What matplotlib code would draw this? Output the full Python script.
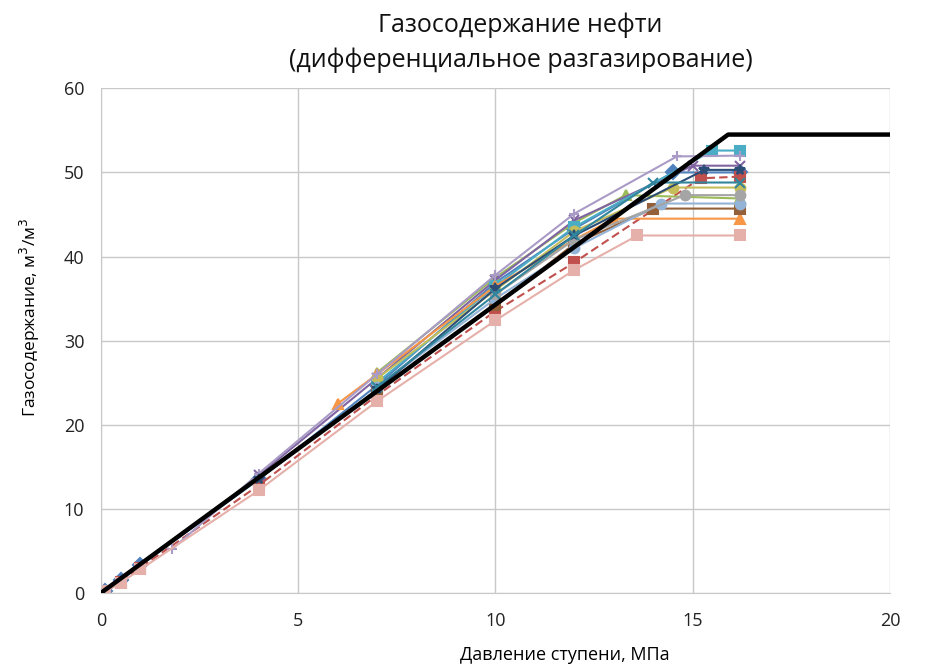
import matplotlib
matplotlib.use("Agg")
import matplotlib.pyplot as plt

plt.rcParams['font.family'] = ['Open Sans', 'DejaVu Sans']

title = "Газосодержание нефти\n(дифференциальное разгазирование)"
xlabel = "Давление ступени, МПа"
ylabel = "Газосодержание, м$^3$/м$^3$"

# black trend line
trend_x = [0, 15.9, 20]
trend_y = [0, 54.5, 54.5]

# sample series: (pressure, GOR)
s1_x = [16.2, 14.5, 12, 10, 7, 4, 1, 0.5, 0.1]
s1_y = [50.0, 50.0, 43.3, 36.9, 24.7, 13.5, 3.3, 1.5, 0.2]
s2_x = [16.2, 15.2, 12, 10, 7, 4, 1, 0.5, 0.1]
s2_y = [49.5, 49.3, 39.3, 33.5, 23.5, 12.8, 3.0, 1.3, 0.1]
s3_x = [16.2, 13.3, 12, 10, 7]
s3_y = [46.9, 47.3, 44.0, 37.5, 26.2]
s4_x = [16.2, 15.0, 12, 10, 7, 4]
s4_y = [50.8, 50.8, 44.3, 37.2, 25.5, 14.0]
s5_x = [16.2, 15.5, 12, 10, 7]
s5_y = [52.6, 52.6, 43.5, 36.5, 25.0]
s6_x = [16.2, 13.0, 12, 10, 7, 6]
s6_y = [44.5, 44.5, 42.0, 36.5, 26.0, 22.5]
s7_x = [16.2, 13.6, 12, 10, 7, 4, 1, 0.5, 0.1]
s7_y = [42.5, 42.5, 38.4, 32.4, 22.8, 12.2, 2.8, 1.2, 0.2]
s8_x = [16.2, 14.0, 12, 10, 7]
s8_y = [45.7, 45.7, 41.5, 34.2, 24.0]
s9_x = [16.2, 14.5, 12, 10, 7]
s9_y = [48.2, 48.2, 43.0, 36.0, 25.5]
s10_x = [16.2, 14.6, 12, 10, 7, 4, 1.8]
s10_y = [52.0, 51.9, 45.1, 37.8, 26.0, 14.2, 5.2]
s11_x = [16.2, 14.2, 12, 10, 7]
s11_y = [46.3, 46.3, 41.0, 35.0, 24.5]
s12_x = [16.2, 14.8, 12, 10]
s12_y = [47.3, 47.3, 42.0, 35.5]
s13_x = [16.2, 15.3, 12, 10, 7, 4]
s13_y = [50.3, 50.3, 42.5, 36.2, 24.2, 13.5]
s14_x = [16.2, 14.0, 12, 10, 7]
s14_y = [48.8, 48.8, 42.5, 35.5, 24.5]

series = [
    (s1_x, s1_y, '#4F81BD', 'D', '-'),
    (s2_x, s2_y, '#C0504D', 's', (0, (4, 2))),
    (s3_x, s3_y, '#9BBB59', '^', '-'),
    (s4_x, s4_y, '#8064A2', 'x', '-'),
    (s5_x, s5_y, '#4BACC6', 's', '-'),
    (s6_x, s6_y, '#F79646', '^', '-'),
    (s8_x, s8_y, '#94603A', 's', '-'),
    (s9_x, s9_y, '#C4BD5A', 'o', '-'),
    (s10_x, s10_y, '#A99BC6', '+', '-'),
    (s11_x, s11_y, '#93B3D7', 'o', '-'),
    (s12_x, s12_y, '#A5A5A5', 'o', '-'),
    (s13_x, s13_y, '#2C4D75', '*', '-'),
    (s14_x, s14_y, '#31859C', 'x', '-'),
    (s7_x, s7_y, '#E6B0AA', 's', '-'),
]

fig = plt.figure(figsize=(9.26, 6.64), dpi=100)
ax = fig.add_axes([0.109, 0.107, 0.852, 0.760])

for xs, ys, c, m, ls in series:
    ax.plot(xs, ys, color=c, marker=m, linestyle=ls, linewidth=1.5,
            markersize=7, markeredgewidth=1.5)

ax.plot(trend_x, trend_y, color='black', linewidth=3.2, zorder=10)

ax.set_xlim(0, 20)
ax.set_ylim(0, 60)
ax.set_xticks([0, 5, 10, 15, 20])
ax.set_yticks(range(0, 61, 10))
ax.grid(True, color='#C8C8C8', linewidth=1)
ax.set_axisbelow(True)
for sp in ['top', 'right']:
    ax.spines[sp].set_visible(False)
for sp in ['left', 'bottom']:
    ax.spines[sp].set_color('#C8C8C8')
ax.tick_params(length=0, labelsize=13, colors='#222222')
ax.tick_params(axis='x', pad=14)
ax.tick_params(axis='y', pad=12)

fig.text(0.562, 0.962, "Газосодержание нефти", ha='center', va='center',
         fontsize=18, color='#111111')
fig.text(0.562, 0.909, "(дифференциальное разгазирование)", ha='center', va='center',
         fontsize=18, color='#111111')
ax.set_xlabel(xlabel, fontsize=13, va='center')
ax.xaxis.set_label_coords(0.588, -0.123)
ax.set_ylabel(ylabel, fontsize=12.5)
ax.yaxis.set_label_coords(-0.075, 0.545)

fig.savefig('out.png', dpi=100)
